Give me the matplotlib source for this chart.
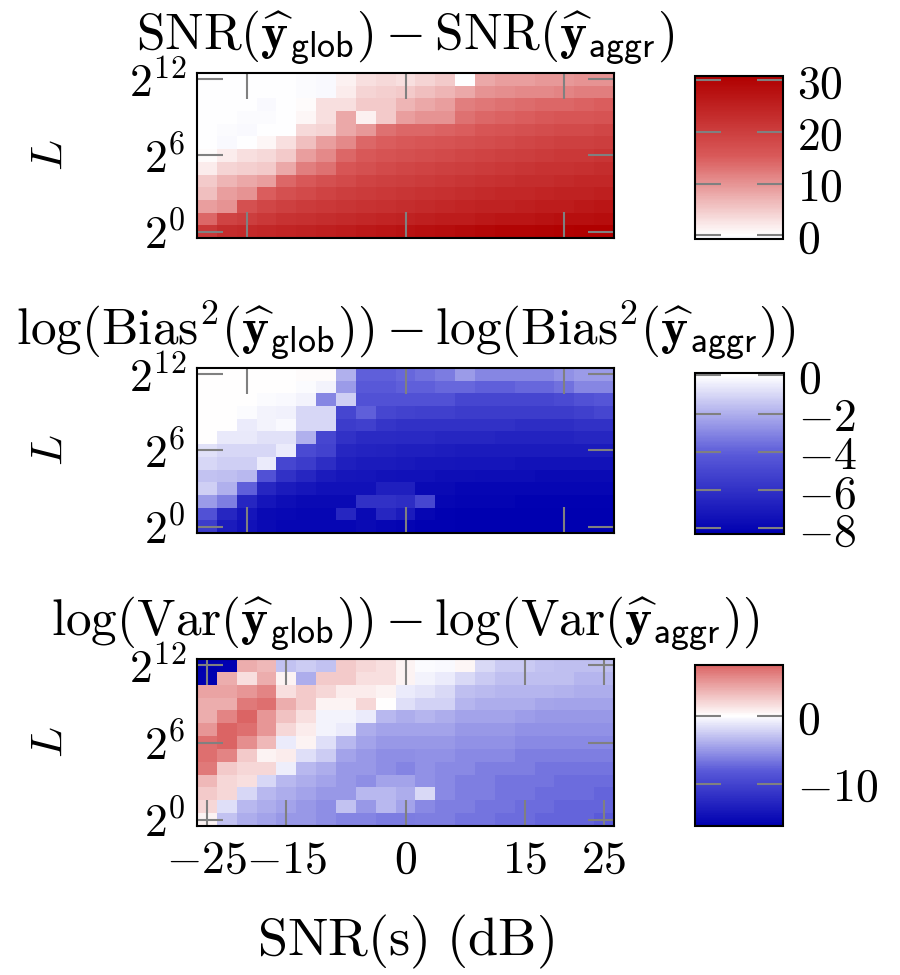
"""
Difference maps glob vs aggr over SNR(s) and L, with diverging colour bars.
"""
import numpy as np
import matplotlib
matplotlib.use('Agg')
import matplotlib.pyplot as plt
from matplotlib.colors import LinearSegmentedColormap

plt.rcParams['mathtext.fontset'] = 'cm'
plt.rcParams['font.family'] = 'serif'
plt.rcParams['font.size'] = 33

# ===== Data =====
snr_db = [-25, -22.5, -20, -17.5, -15, -12.5, -10, -7.5, -5, -2.5, 0,
          2.5, 5, 7.5, 10, 12.5, 15, 17.5, 20, 22.5, 25]
log2_L = [0, 1, 2, 3, 4, 5, 6, 7, 8, 9, 10, 11, 12]

# rows listed from L = 2^12 (top) down to L = 2^0
snr_diff = [
    [0, 0, 0, 0, -0.2, -0.3, -0.6, 1.5, 3, 3.5, 3, 4, 5, 0, 8, 9, 9, 9.5, 9.5, 10, 10],
    [0, 0, 0, 0, 0, -0.3, -0.7, 2, 4, 4.5, 5, 6, 7, 8, 10, 10.5, 11, 11, 11.5, 12, 12],
    [0, 0, 0, -0.5, 0, 0.5, 3, 3, 5, 5, 7, 8, 9, 12, 12.5, 13, 13.5, 14, 14, 14.5, 15],
    [0, -0.2, -0.3, -0.4, -0.2, 1, 3, 8, 1.5, 5, 9, 10, 10, 13, 14, 14.5, 15, 15.5, 16, 16, 16.5],
    [0, -0.3, -0.6, -0.2, 0, 3.5, 4, 8, 9.5, 13, 14, 14, 14.5, 15, 16, 16.5, 17, 17.5, 18, 18, 18.5],
    [0, -0.5, -0.2, 1, 3, 6, 9, 11, 14, 15, 15.5, 16, 16.5, 17, 17.5, 18, 18.5, 19, 19.5, 19.5, 20],
    [0.5, 2, 3, 3.5, 5, 9, 11, 14, 15.5, 16.5, 17, 17.5, 18, 18.5, 19, 19.5, 20, 20.5, 21, 21, 21.5],
    [2, 4, 4.5, 5, 8, 12, 13, 16, 17, 18, 18.5, 19, 19.5, 20, 20.5, 21, 21.5, 22, 22, 22.5, 23],
    [5, 7, 8, 9, 14, 15.5, 17, 18, 19, 19.5, 20, 20.5, 21, 21.5, 22, 22.5, 23, 23, 23.5, 24, 24],
    [6, 9, 10, 15, 17, 18, 19, 20, 20.5, 21, 21.5, 22, 22.5, 23, 23.5, 24, 24, 24.5, 25, 25, 25.5],
    [9, 10, 17, 18.5, 19.5, 20.5, 21, 21.5, 22, 22.5, 23, 23.5, 24, 24.5, 25, 25, 25.5, 26, 26, 26.5, 27],
    [14, 19, 20, 21, 22, 22.5, 23, 23.5, 24, 24.5, 25, 25.5, 26, 26, 26.5, 27, 27, 27.5, 28, 28, 28.5],
    [21, 23, 23.5, 24, 24.5, 25, 25.5, 26, 26.5, 27, 27.5, 28, 28.5, 29, 29.5, 30, 30, 30.2, 30.4, 30.6, 30.8],
]

bias_diff = [
    [0, 0, 0, 0, 0, 0.1, 0.12, -2, -4, -4, -3.8, -3.5, -3.3, -2.5, -3, -3, -3, -3, -2.8, -2.5, -2.5],
    [0, 0, 0, 0, 0, -0.1, -0.3, -2.5, -4.2, -4.2, -4, -4, -3.8, -3.8, -4, -4, -3.8, -3.8, -3.5, -3, -3],
    [0, 0, 0, -0.1, -0.2, -0.3, -3, -1.2, -4.5, -4.5, -4.5, -4.5, -4.5, -5, -5, -5, -5, -5, -4.8, -4.5, -4.3],
    [0, 0, -0.1, -0.3, -0.4, -1, -1, -5, -4, -5, -5.2, -5.3, -5.3, -5.5, -5.5, -5.5, -5.5, -5.5, -5.5, -5.3, -5],
    [0, 0, -0.5, -0.3, -0.2, -1, -1, -5.5, -5.3, -5.8, -6, -6, -6, -6, -6, -6, -6.2, -6.2, -6.2, -6, -6],
    [0, -0.6, -0.6, -0.8, -0.8, -2, -5, -6, -6.3, -6.3, -6.4, -6.4, -6.5, -6.5, -6.5, -6.6, -6.6, -6.6, -6.6, -6.5, -6.5],
    [-0.8, -1, -1, -1, -0.5, -4.8, -5.2, -6.5, -6.6, -6.7, -6.8, -6.8, -6.9, -7, -7, -7, -7, -7, -7, -7, -7],
    [-1, -1.2, -1.2, -0.5, -5, -5.5, -6.2, -6.8, -7, -7, -7.1, -7.2, -7.2, -7.3, -7.3, -7.3, -7.4, -7.4, -7.4, -7.4, -7.4],
    [-1.5, -1.6, -1.8, -4.5, -6, -6.5, -7, -7.2, -7.3, -7.4, -7.5, -7.5, -7.6, -7.6, -7.7, -7.7, -7.7, -7.8, -7.8, -7.8, -7.8],
    [-1.2, -2, -4, -6.5, -7, -7.2, -7.5, -7.5, -7.5, -6.8, -6.8, -7.8, -7.8, -8, -8, -8, -8, -8, -8, -8, -8],
    [-2.5, -3.2, -6.5, -7.3, -7.6, -7.8, -7.8, -7.8, -6, -6, -6.2, -5, -8, -8.1, -8.1, -8.1, -8.2, -8.2, -8.2, -8.2, -8.2],
    [-4.5, -6.5, -7.3, -7.8, -7.9, -8, -8, -6.5, -7.8, -6.5, -7, -8, -8.2, -8.3, -8.3, -8.3, -8.3, -8.3, -8.3, -8.3, -8.3],
    [-5.5, -7, -7.5, -7.8, -8, -8, -8, -8, -7.8, -8, -8.1, -8.2, -8.2, -8.3, -8.3, -8.3, -8.3, -8.3, -8.3, -8.3, -8.3],
]

var_diff = [
    [-16.25, -16, 4, 3.5, -3, -2.5, -3, 2.5, 2, 1.5, 0.5, -0.2, -0.3, 0.4, -1.8, -2.7, -2.7, -2.9, -3.1, -3.1, -3.1],
    [-16, 4, 1.5, 4, 0.5, -4, 2.5, 2.5, 1.5, 1.5, 0.5, -0.5, -1, -1.8, -2.7, -3.1, -3.1, -3.1, -3.1, -3.6, -3.6],
    [4.5, 4.5, 5, 6, 1.5, 2.5, 2, 1, 1, 0.5, -1, -1.4, -1.8, -3.1, -3.4, -3.6, -3.6, -3.6, -3.8, -4, -4],
    [4, 4, 6.5, 7, 4, 2.5, 0.5, 0.5, 2, 0, -1.5, -2.2, -2.2, -3.6, -4, -4, -4, -4.3, -4.5, -4.5, -4.5],
    [4, 6, 7.5, 5, 3, 1.5, -0.5, -0.5, -1, -3.5, -4, -3.6, -4, -4.5, -4.5, -4.5, -4.7, -5, -5, -5, -5],
    [5, 7.5, 7, 5, 2, 1, -0.5, -1, -4, -4.5, -4.5, -4.5, -4.5, -5, -5, -5, -5.4, -5.4, -5.4, -5.4, -5.4],
    [7, 7.5, 5.5, 3.5, -1, 0.5, -1.5, -3.5, -4.5, -5, -5, -5, -5, -5.4, -5.4, -5.4, -5.8, -5.8, -5.8, -5.8, -5.8],
    [7, 6, 2.5, 0.5, 1, -1.5, -2.5, -4.5, -5, -5.5, -5.5, -5.4, -5.4, -5.8, -5.8, -5.8, -6.3, -6.3, -6.3, -6.3, -6.3],
    [6.5, 2.5, 2, 2, -0.8, -3.5, -4, -5, -5, -5.5, -6, -5.4, -5.8, -5.8, -6.3, -6.3, -6.3, -6.7, -6.7, -6.7, -6.7],
    [3.5, 2, 1.5, -2, -3.5, -4, -4.5, -5, -5.5, -4.5, -4.5, -5.4, -5.8, -6.3, -6.3, -6.7, -6.7, -6.7, -7.2, -7.2, -7.2],
    [2.5, 2, -2, -3.5, -4, -4.5, -5, -5, -3.5, -3.5, -4, -1.8, -5.8, -6.3, -6.3, -6.7, -6.7, -7.2, -7.2, -7.2, -7.6],
    [2, -1.5, -3.5, -4, -4.5, -5, -5.5, -3, -5, -3.5, -4.5, -5.8, -6.3, -6.3, -6.7, -6.7, -7.2, -7.2, -7.6, -7.6, -7.6],
    [0.5, -3, -4, -4.5, -5, -5, -5.5, -6, -6, -6.5, -6.5, -6.3, -6.3, -6.7, -6.7, -7.2, -7.2, -7.6, -7.6, -7.6, -8],
]

titles = [
    r'$\mathrm{SNR}(\widehat{\mathbf{y}}_{\mathsf{glob}}) - \mathrm{SNR}(\widehat{\mathbf{y}}_{\mathsf{aggr}})$',
    r'$\log(\mathrm{Bias}^2(\widehat{\mathbf{y}}_{\mathsf{glob}})) - \log(\mathrm{Bias}^2(\widehat{\mathbf{y}}_{\mathsf{aggr}}))$',
    r'$\log(\mathrm{Var}(\widehat{\mathbf{y}}_{\mathsf{glob}})) - \log(\mathrm{Var}(\widehat{\mathbf{y}}_{\mathsf{aggr}}))$',
]
cbar_ticks = [[0, 10, 20, 30], [0, -2, -4, -6, -8], [0, -10]]

# dark blue -> white -> dark red
BASE = LinearSegmentedColormap.from_list(
    'bwr_dark', [(0, 0, 0.69), (0.35, 0.35, 0.85), (1, 1, 1), (0.85, 0.35, 0.35), (0.69, 0, 0)])


def panel_cmap(vmin, vmax):
    """Cut the symmetric colormap down to the data range."""
    m = max(abs(vmin), abs(vmax))
    lo = 0.5 + vmin / (2 * m)
    hi = 0.5 + vmax / (2 * m)
    return LinearSegmentedColormap.from_list('cut', BASE(np.linspace(lo, hi, 256)))


# ===== Plot =====
W, H = 900, 975
fig = plt.figure(figsize=(W / 100, H / 100), dpi=100)


def px_axes(x0, y0, x1, y1):
    return fig.add_axes([x0 / W, 1 - y1 / H, (x1 - x0) / W, (y1 - y0) / H])


main_px = [(197, 73, 614, 238), (197, 368, 614, 533), (197, 659, 614, 826)]
cbar_px = [(695, 76, 783, 239), (695, 373, 784, 534), (695, 665, 783, 826)]
tick_kw = dict(direction='in', length=19, width=1.5, color='#808080')

for i, Z in enumerate([snr_diff, bias_diff, var_diff]):
    Z = np.flipud(np.array(Z, dtype=float))
    vmin, vmax = Z.min(), Z.max()
    ax = px_axes(*main_px[i])
    mesh = ax.pcolormesh(snr_db, log2_L, Z, shading='nearest',
                         cmap=panel_cmap(vmin, vmax), vmin=vmin, vmax=vmax)
    ax.set_yticks([0, 6, 12], [r'$2^{0}$', r'$2^{6}$', r'$2^{12}$'])
    if i < 2:
        ax.set_xticks([-20, 0, 20], [])
    else:
        xt = [-25, -15, 0, 15, 25]
        ax.set_xticks(xt, [f'${t}$' for t in xt])
        ax.set_xlabel(r'$\mathrm{SNR(s)\ (dB)}$', fontsize=39, labelpad=22)
    ax.tick_params(top=True, right=True, pad=8, **tick_kw)
    for s in ax.spines.values():
        s.set_linewidth(1.5)
    ax.set_ylabel(r'$L$', labelpad=40)
    ax.set_title(titles[i], fontsize=37, pad=17)

    cax = px_axes(*cbar_px[i])
    cb = fig.colorbar(mesh, cax=cax)
    cb.set_ticks(cbar_ticks[i], labels=[f'${t}$' for t in cbar_ticks[i]])
    cax.tick_params(left=True, right=True, pad=10, **tick_kw)
    cb.outline.set_linewidth(1.5)

fig.savefig('out.png', dpi=100)
